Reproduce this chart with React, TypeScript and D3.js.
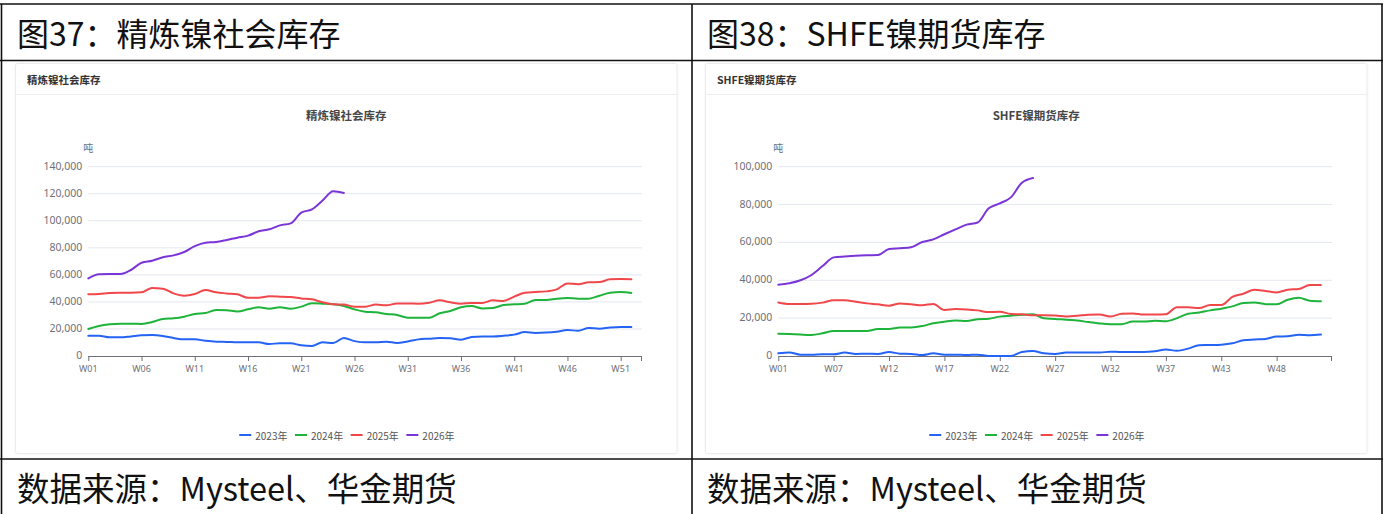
import React from 'react';
import * as d3 from 'd3';

// ---------------- DATA ----------------
const LEFT_WEEKS = ['W01','W02','W03','W04','W05','W06','W07','W08','W09','W10','W11','W12','W13','W14','W15','W16','W17','W18','W19','W20','W21','W22','W23','W24','W25','W26','W27','W28','W29','W30','W31','W32','W33','W34','W35','W36','W37','W38','W39','W40','W41','W42','W43','W44','W45','W46','W47','W48','W49','W50','W51','W52','W53'];
const RIGHT_WEEKS = ['W01','W02','W03','W04','W05','W07','W08','W09','W10','W11','W12','W13','W14','W15','W16','W17','W18','W19','W20','W21','W22','W23','W24','W25','W26','W27','W28','W29','W30','W31','W32','W33','W34','W35','W36','W37','W38','W39','W40','W41','W43','W44','W45','W46','W47','W48','W49','W50','W51','W52','W53'];

const YEARS = ['2023年', '2024年', '2025年', '2026年'];
const COLORS = ['#2563F5', '#1EB33A', '#F0474B', '#7A35D8'];

const L_2023 = [15000,15000,13800,13800,14500,15300,15500,14800,13300,12300,12300,11300,10600,10400,10100,10100,10100,8900,9400,9400,7900,7400,10100,9600,13300,11000,10100,10100,10600,9600,10800,12300,12800,13300,13100,12100,14000,14500,14500,15000,15800,17700,17000,17300,18000,19200,18700,20700,20200,21000,21400,21400];
const L_2024 = [20000,22200,23400,23900,23900,23700,25100,27400,27900,29100,31100,31800,34000,33800,33000,34500,36000,35000,36000,35000,36500,39000,38700,38200,37000,34500,32800,32300,31100,30300,28300,28300,28300,31600,33300,36000,37000,35200,35500,37700,38200,38700,41400,41400,42400,42900,42400,42400,44600,46800,47300,46600];
const L_2025 = [45600,45800,46600,46800,46800,47100,50300,49800,46300,44600,45800,48800,47100,46300,45600,43100,43100,44100,43900,43600,42600,41900,39700,38200,38000,36500,36500,38000,37500,38900,38900,38700,39400,41200,39700,38700,39200,39200,41200,40700,43900,46800,47300,47800,49300,53700,53000,54500,54700,56700,56900,56700];
const L_2026 = [57400,60400,60600,60600,63600,69000,70500,73000,74400,76900,81300,83800,84300,85800,87500,89000,92200,93700,96600,98100,106000,108500,115000,121800,120500];

const R_2023 = [1400,1900,700,700,900,900,1800,1100,1200,1100,2100,1200,1100,500,1400,700,700,500,700,0,0,0,2100,2600,1400,1100,1900,1900,1800,1800,2300,2100,2100,2100,2500,3400,2800,3900,5700,5800,6000,6700,8300,8700,9000,10300,10400,11200,11000,11300];
const R_2024 = [11800,11600,11300,11100,12000,13200,13200,13200,13200,14300,14300,15100,15100,15800,17300,18100,18700,18500,19400,19700,20800,21300,21800,22000,19900,19600,19100,18800,17900,17200,16800,16800,18200,18200,18600,18400,20000,22300,23000,24100,25000,26200,28000,28300,27400,27300,29700,30800,29200,28900];
const R_2025 = [28300,27500,27500,27600,28200,29400,29400,28700,27800,27300,26600,27800,27300,26800,27500,24300,24800,24600,24100,23200,23400,22200,22000,21500,21500,21400,20900,21200,21800,21900,20900,22300,22500,21900,21900,22100,25700,25700,25300,26900,26900,31200,32900,35000,34300,33600,35000,35400,37500,37500];
const R_2026 = [37700,38400,40000,42800,47500,52100,52600,53000,53200,53300,56500,56900,57400,60200,61600,64300,66900,69400,70500,78000,80600,83800,91500,94000];

const LEFT_Y_TICKS = [0, 20000, 40000, 60000, 80000, 100000, 120000, 140000];
const RIGHT_Y_TICKS = [0, 20000, 40000, 60000, 80000, 100000];
const LABEL_EVERY = 5;

// ---------------- STYLE ----------------
const CJK = '"Noto Sans CJK SC", "Noto Sans", sans-serif';
const AXIS_FONT = '"Noto Sans", "Noto Sans CJK SC", sans-serif';
const AXIS_COLOR = '#6E7079';
const GRID_COLOR = '#E3E7EF';

interface PanelProps {
  dx: number;
  cardTitle: string;
  title: string;
  cats: string[];
  series: number[][];
  yTicks: number[];
}

function Panel({ dx, cardTitle, title, cats, series, yTicks }: PanelProps) {
  const plotL = 88.3 + dx;
  const plotR = 642 + dx;
  const plotT = 166.7;
  const plotB = 356;
  const cx = (15.5 + 677) / 2 + dx;

  const x = d3.scalePoint<string>().domain(cats).range([plotL, plotR]).padding(0);
  const y = d3.scaleLinear().domain([0, yTicks[yTicks.length - 1]]).range([plotB, plotT]);
  const line = d3
    .line<number>()
    .x((_, i) => x(cats[i]) as number)
    .y((d) => y(d))
    .curve(d3.curveMonotoneX);
  const fmt = d3.format(',');

  const labelIdx = cats.map((_, i) => i).filter((i) => i % LABEL_EVERY === 0 && i < cats.length - 1);

  const legendStart = cx - 107;
  const legendStep = 55.7;

  return (
    <g>
      {/* card */}
      <rect x={15.5 + dx} y={63.5} width={661.5} height={390} fill="#fff" stroke="#ECECEC" strokeWidth={1} rx={2} filter="url(#shadow)" />
      <text x={27 + dx} y={79} fontSize={10.5} fontWeight="bold" fill="#333" fontFamily={CJK} dominantBaseline="central">
        {cardTitle}
      </text>
      <line x1={16 + dx} x2={676.5 + dx} y1={94.5} y2={94.5} stroke="#EEEEEE" />

      {/* chart title */}
      <text x={cx} y={115} fontSize={11.5} fontWeight="bold" fill="#464646" textAnchor="middle" dominantBaseline="central" fontFamily={CJK}>
        {title}
      </text>
      <text x={plotL} y={147} fontSize={10} fill={AXIS_COLOR} textAnchor="middle" dominantBaseline="central" fontFamily={CJK}>
        吨
      </text>

      {/* grid + y labels */}
      {yTicks.map((t) => (
        <g key={t}>
          {t !== 0 && <line x1={plotL} x2={plotR} y1={y(t)} y2={y(t)} stroke={GRID_COLOR} strokeWidth={1} />}
          <text x={plotL - 6} y={y(t) - 1} fontSize={10.5} fill={AXIS_COLOR} textAnchor="end" dominantBaseline="central" fontFamily={AXIS_FONT}>
            {fmt(t)}
          </text>
        </g>
      ))}

      {/* x axis */}
      <line x1={plotL} x2={plotR} y1={plotB + 0.5} y2={plotB + 0.5} stroke={AXIS_COLOR} strokeWidth={1} />
      {labelIdx.map((i) => (
        <g key={cats[i]}>
          <line x1={(x(cats[i]) as number) + 0.5} x2={(x(cats[i]) as number) + 0.5} y1={plotB} y2={plotB + 5} stroke={AXIS_COLOR} />
          <text x={x(cats[i]) as number} y={368} fontSize={9} fill={AXIS_COLOR} textAnchor="middle" dominantBaseline="central" fontFamily={AXIS_FONT}>
            {cats[i]}
          </text>
        </g>
      ))}
      <line x1={plotR - 0.5} x2={plotR - 0.5} y1={plotB} y2={plotB + 5} stroke={AXIS_COLOR} />

      {/* series */}
      {series.map((s, k) => (
        <path key={k} d={line(s) || ''} fill="none" stroke={COLORS[k]} strokeWidth={2} strokeLinejoin="round" strokeLinecap="round" />
      ))}

      {/* legend */}
      {YEARS.map((yr, k) => (
        <g key={yr} transform={`translate(${legendStart + k * legendStep},435)`}>
          <line x1={0} x2={12} y1={0} y2={0} stroke={COLORS[k]} strokeWidth={2} />
          <text x={16} y={0} fontSize={10} fill="#555" dominantBaseline="central" fontFamily={CJK}>
            {yr}
          </text>
        </g>
      ))}
    </g>
  );
}

export default function App() {
  const W = 1386;
  const H = 514;
  return (
    <svg width={W} height={H} style={{ position: 'fixed', left: 0, top: 0, background: '#fff' }}>
      <defs>
        <filter id="shadow" x="-5%" y="-5%" width="110%" height="110%">
          <feDropShadow dx="0" dy="0" stdDeviation="1.2" floodColor="#000" floodOpacity="0.06" />
        </filter>
      </defs>
      <rect x={0} y={0} width={W} height={H} fill="#fff" />

      <Panel dx={0} cardTitle="精炼镍社会库存" title="精炼镍社会库存" cats={LEFT_WEEKS} series={[L_2023, L_2024, L_2025, L_2026]} yTicks={LEFT_Y_TICKS} />
      <Panel dx={690} cardTitle="SHFE镍期货库存" title="SHFE镍期货库存" cats={RIGHT_WEEKS} series={[R_2023, R_2024, R_2025, R_2026]} yTicks={RIGHT_Y_TICKS} />

      {/* table lines */}
      <g stroke="#111" strokeWidth={1.6} fill="none">
        <line x1={0} x2={1383} y1={4} y2={4} />
        <line x1={0} x2={1383} y1={60.5} y2={60.5} />
        <line x1={0} x2={1383} y1={459} y2={459} />
        <line x1={1.5} x2={1.5} y1={4} y2={H} />
        <line x1={692} x2={692} y1={4} y2={H} />
        <line x1={1382} x2={1382} y1={4} y2={H} />
      </g>

      {/* header & footer text */}
      <g fontFamily={CJK} fontSize={32} fill="#111">
        <text x={17} y={46}>图37：精炼镍社会库存</text>
        <text x={707} y={46}>图38：SHFE镍期货库存</text>
        <text x={17} y={501} fontSize={32.5}>数据来源：Mysteel、华金期货</text>
        <text x={707} y={501} fontSize={32.5}>数据来源：Mysteel、华金期货</text>
      </g>
    </svg>
  );
}
